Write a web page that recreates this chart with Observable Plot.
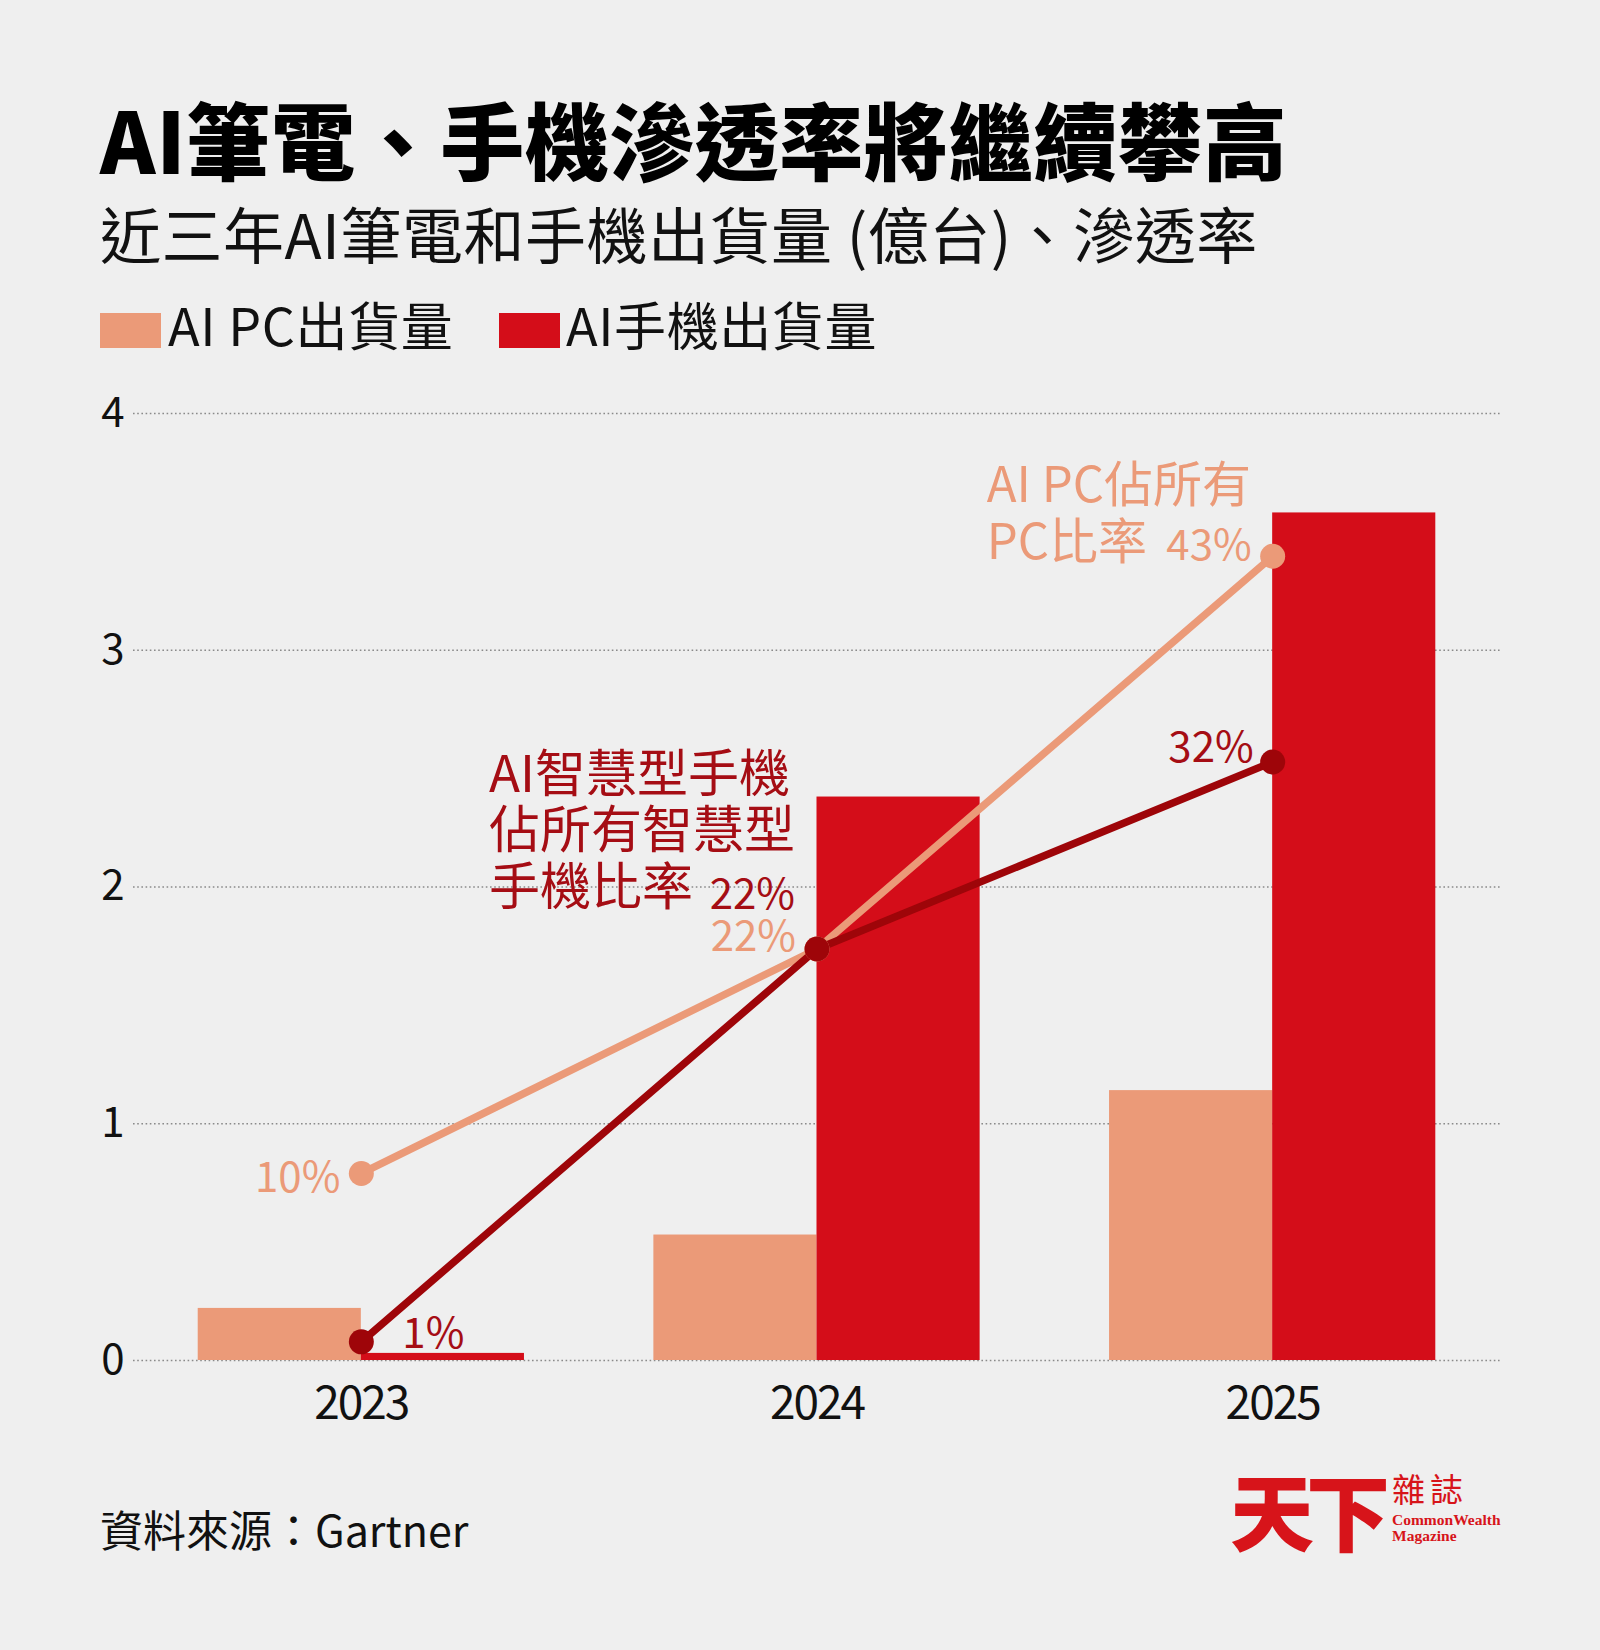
<!DOCTYPE html>
<html>
<head>
<meta charset="utf-8">
<script src="https://cdn.jsdelivr.net/npm/d3@7"></script>
<script src="https://cdn.jsdelivr.net/npm/@observablehq/plot@0.6"></script>
<style>
html,body{margin:0;padding:0;background:#EFEFEF;}
#page{position:relative;width:1600px;height:1650px;background:#EFEFEF;font-family:"Noto Sans CJK TC","Noto Sans",sans-serif;color:#111;overflow:hidden;}
.abs{position:absolute;white-space:nowrap;line-height:1;}
#title{left:100px;top:96px;font-size:84px;font-weight:900;color:#000;letter-spacing:0.7px;}
#subtitle{left:100px;top:202px;font-size:61px;font-weight:400;color:#111;letter-spacing:0.5px;}
.sw{position:absolute;width:61px;height:35px;top:313px;}
.lg{top:298px;font-size:52px;color:#111;letter-spacing:0.6px;}
#chart{position:absolute;left:0;top:360px;}
#source{left:100px;top:1507px;font-size:43px;color:#111;}
#logo1{left:1230px;top:1467px;font-size:84px;font-weight:900;color:#D7141A;letter-spacing:-8px;}
#logo2{left:1392px;top:1472px;font-size:33px;color:#D7141A;letter-spacing:5px;}
.logo3{left:1392px;font-family:"Liberation Serif",serif;font-weight:700;font-size:15.5px;color:#D7141A;}
#chart g[aria-label="x-axis tick label"] text{letter-spacing:-2px;}
</style>
</head>
<body>
<div id="page">
  <div id="title" class="abs">AI筆電、手機滲透率將繼續攀高</div>
  <div id="subtitle" class="abs">近三年AI筆電和手機出貨量 (億台)、滲透率</div>
  <div id="legend"></div>
  <div id="chart"></div>
  <div id="source" class="abs">資料來源：Gartner</div>
  <div id="logo1" class="abs">天下</div>
  <div id="logo2" class="abs">雜誌</div>
  <div class="abs logo3" style="top:1512px;">CommonWealth</div>
  <div class="abs logo3" style="top:1528px;">Magazine</div>
</div>
<script>
// ---- data ----
const years = ["2023", "2024", "2025"];
const pcShipments = [0.22, 0.53, 1.14];      // 億台
const phoneShipments = [0.03, 2.38, 3.58];   // 億台
const pcRates = [10, 22, 43];                // %
const phoneRates = [1, 22, 32];              // %
const yTicks = [0, 1, 2, 3, 4];
const seriesNames = ["AI PC出貨量", "AI手機出貨量"];
const pcNote = "AI PC佔所有\nPC比率";
const phoneNote = "AI智慧型手機\n佔所有智慧型\n手機比率";

// ---- styles ----
const PC = "#EB9A78";
const RED = "#D40D19";
const DARK = "#9E0509";
const DARKTXT = "#A50D14";
const k = 0.079; // rate (%) -> left-axis units (secondary axis ratio)

// legend
const legend = document.getElementById("legend");
[[PC, 100, 168], [RED, 499, 566]].forEach(([c, sx, tx], i) => {
  const s = document.createElement("div");
  s.className = "sw"; s.style.background = c; s.style.left = sx + "px";
  legend.appendChild(s);
  const t = document.createElement("div");
  t.className = "abs lg"; t.style.left = tx + "px"; t.textContent = seriesNames[i];
  legend.appendChild(t);
});

const rows = years.map((y, i) => ({year: y, pc: pcShipments[i], phone: phoneShipments[i], pcRate: pcRates[i], phoneRate: phoneRates[i]}));

const W = 1600, H = 1100, ML = 133, MR = 100, MT = 53, MB = 100;
const padIn = 0.284, padOut = 0.142;
const step = (W - ML - MR) / (years.length - padIn + 2 * padOut);
const half = step * (1 - padIn) / 2;

const lab = (i, arr, color, opts) => Plot.text([i], {
  x: d => years[d], y: d => arr[d] * k, text: d => arr[d] + "%",
  fill: color, fontSize: 42, lineAnchor: "bottom", ...opts
});

const chart = Plot.plot({
  width: W, height: H,
  marginLeft: ML, marginRight: MR, marginTop: MT, marginBottom: MB,
  style: {background: "transparent", fontFamily: '"Noto Sans CJK TC","Noto Sans",sans-serif', color: "#111"},
  x: {type: "band", domain: years, paddingInner: padIn, paddingOuter: padOut, align: 0.5, round: false, label: null},
  y: {domain: [0, 4], label: null},
  marks: [
    Plot.gridY(yTicks, {stroke: "#8a8a8a", strokeOpacity: 1, strokeWidth: 1.6, strokeDasharray: "1.6,2.6"}),
    Plot.axisY(yTicks, {tickSize: 0, tickPadding: 9, fontSize: 42, tickFormat: d3.format("d"), label: null}),
    Plot.axisX(years, {tickSize: 0, tickPadding: 26, fontSize: 46, label: null}),
    Plot.barY(rows, {x: "year", y: "pc", fill: PC, insetRight: half}),
    Plot.barY(rows, {x: "year", y: "phone", fill: RED, insetLeft: half}),
    Plot.line(rows, {x: "year", y: d => d.pcRate * k, stroke: PC, strokeWidth: 7.5}),
    Plot.line(rows, {x: "year", y: d => d.phoneRate * k, stroke: DARK, strokeWidth: 7.5}),
    Plot.dot(rows, {x: "year", y: d => d.pcRate * k, r: 12.5, fill: PC}),
    Plot.dot(rows, {x: "year", y: d => d.phoneRate * k, r: 12.5, fill: DARK}),
    lab(0, pcRates, PC, {textAnchor: "end", dx: -21, dy: 19}),
    lab(1, pcRates, PC, {textAnchor: "end", dx: -21, dy: 2}),
    lab(2, pcRates, PC, {textAnchor: "end", dx: -21, dy: 4}),
    lab(0, phoneRates, DARKTXT, {textAnchor: "start", dx: 41, dy: 6}),
    lab(1, phoneRates, DARKTXT, {textAnchor: "end", dx: -22, dy: -40}),
    lab(2, phoneRates, DARKTXT, {textAnchor: "end", dx: -19, dy: 0}),
    Plot.text([2], {x: d => years[d], y: d => pcRates[d] * k, text: () => pcNote,
      textAnchor: "start", lineAnchor: "bottom", dx: -286, dy: 3, fontSize: 49, lineHeight: 1.16, fill: PC}),
    Plot.text([1], {x: d => years[d], y: d => phoneRates[d] * k, text: () => phoneNote,
      textAnchor: "start", lineAnchor: "bottom", dx: -328, dy: -44, fontSize: 51, lineHeight: 1.11, fill: DARKTXT})
  ]
});
document.getElementById("chart").appendChild(chart);
</script>
</body>
</html>
